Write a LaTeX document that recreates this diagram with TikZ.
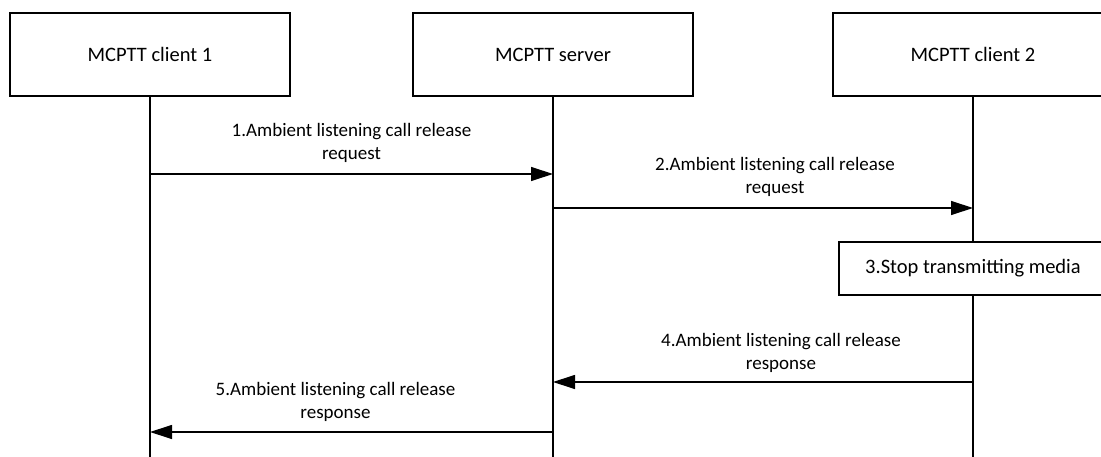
\documentclass[tikz,border=0pt]{standalone}
\usepackage{fontspec}
\setmainfont{Carlito}
\usetikzlibrary{arrows.meta}
\tikzset{
  entity/.style={draw, line width=1.2pt, fill=white, minimum width=280pt, minimum height=83pt, inner sep=0pt, font=\fontsize{20.5}{24}\selectfont},
  actbox/.style={draw, line width=1.2pt, fill=white, minimum width=268pt, minimum height=53pt, inner sep=0pt, font=\fontsize{20.5}{24}\selectfont},
  life/.style={line width=1.2pt},
  msg/.style={line width=1.2pt, -{Triangle[length=22pt,width=14pt]}},
  lbl/.style={align=center, font=\fontsize{19}{23}\selectfont, inner sep=0pt}
}
\begin{document}
\begin{tikzpicture}[x=1pt,y=-1pt]
\clip (0,0) rectangle (1101,457);
\fill[white] (0,0) rectangle (1101,457);
% entities
\node[entity] (c1) at (150,54.5) {MCPTT client 1};
\node[entity] (srv) at (553,54.5) {MCPTT server};
\node[entity] (c2) at (973,54.5) {MCPTT client 2};
% lifeline ends
\coordinate (c1end) at (150,460);
\coordinate (srvend) at (553,460);
\coordinate (c2end) at (973,460);
\draw[life] (c1.south) -- (c1end);
\draw[life] (srv.south) -- (srvend);
\draw[life] (c2.south) -- (c2end);
% action box
\node[actbox] (stop) at (973,268.5) {3.Stop transmitting media};
% message end points
\coordinate (m1s) at (150,174);
\coordinate (m1e) at (553,174);
\coordinate (m2s) at (553,208);
\coordinate (m2e) at (973,208);
\coordinate (m4s) at (973,382);
\coordinate (m4e) at (553,382);
\coordinate (m5s) at (553,432);
\coordinate (m5e) at (150,432);
% messages
\draw[msg] (m1s) -- node[lbl, yshift=31pt] {1.Ambient listening call release\\request} (m1e);
\draw[msg] (m2s) -- node[lbl, yshift=31pt, xshift=12pt] {2.Ambient listening call release\\request} (m2e);
\draw[msg] (m4s) -- node[lbl, yshift=29pt, xshift=18pt] {4.Ambient listening call release\\response} (m4e);
\draw[msg] (m5s) -- node[lbl, yshift=30pt, xshift=-16pt] {5.Ambient listening call release\\response} (m5e);
\end{tikzpicture}
\end{document}
